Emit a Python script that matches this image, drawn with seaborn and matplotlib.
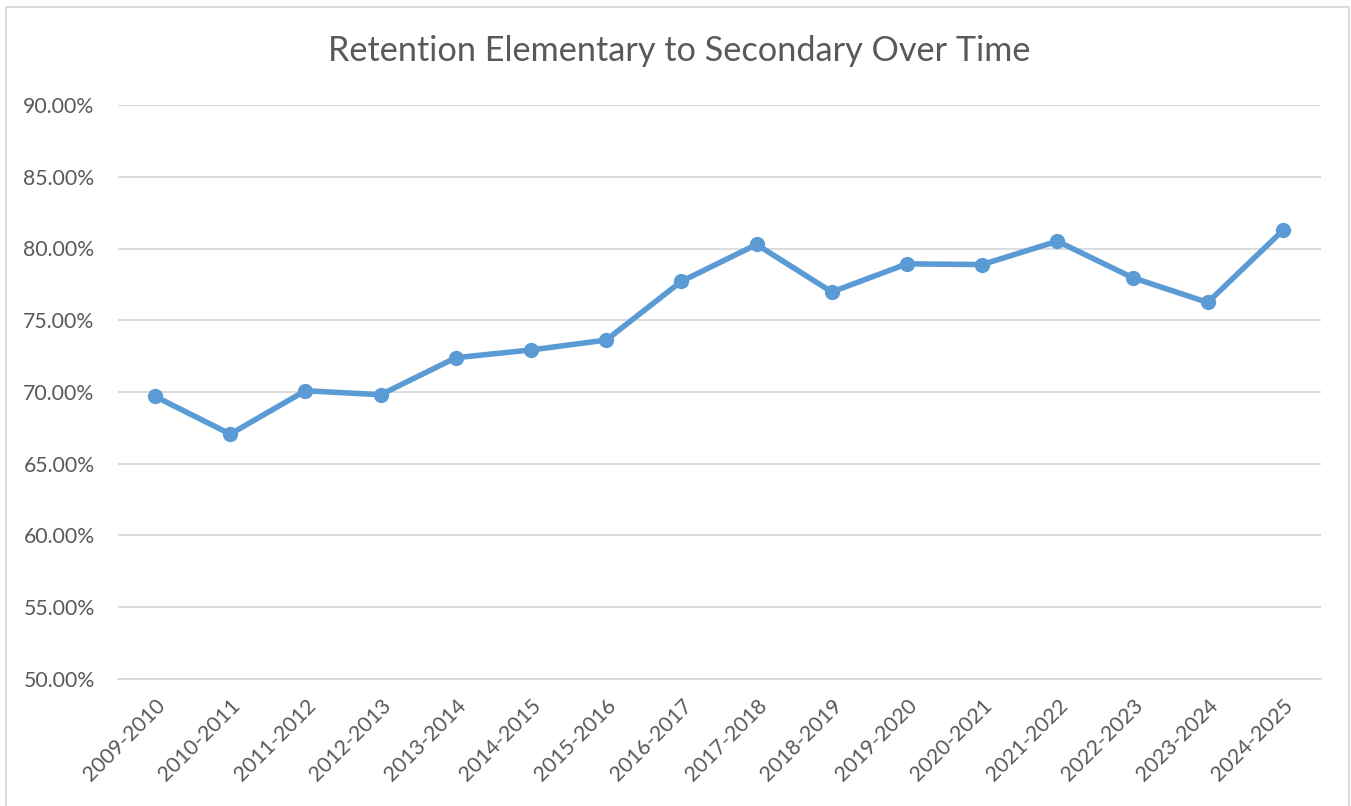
import pandas as pd
import matplotlib.pyplot as plt
import seaborn as sns
from matplotlib.patches import Rectangle
from matplotlib.ticker import FuncFormatter

# school years and retention rate (%)
years = ['2009-2010', '2010-2011', '2011-2012', '2012-2013', '2013-2014',
         '2014-2015', '2015-2016', '2016-2017', '2017-2018', '2018-2019',
         '2019-2020', '2020-2021', '2021-2022', '2022-2023', '2023-2024',
         '2024-2025']
retention = [69.69, 67.07, 70.09, 69.81, 72.39, 72.93, 73.62, 77.71, 80.28,
             76.97, 78.93, 78.88, 80.51, 77.97, 76.24, 81.26]

df = pd.DataFrame({'Year': years, 'Retention': retention})

sns.set_theme(style="white")
plt.rcParams['font.family'] = ['Lato', 'DejaVu Sans']

text_grey = '#595959'
blue = '#5B9BD5'

fig = plt.figure(figsize=(13.51, 8.06), dpi=100)
ax = fig.add_axes([117.5 / 1351, 1 - 679 / 806, (1320.5 - 117.5) / 1351, (679 - 105) / 806])

sns.lineplot(data=df, x='Year', y='Retention', ax=ax, color=blue, linewidth=4,
             marker='o', markersize=11, markeredgewidth=0, sort=False)

ax.set_xlim(-0.5, len(years) - 0.5)
ax.set_ylim(50, 90)
ax.set_yticks(range(50, 91, 5))
ax.yaxis.set_major_formatter(FuncFormatter(lambda v, p: f'{v:.2f}%'))
ax.grid(axis='y', color='#D9D9D9', linewidth=1.3)
ax.set_axisbelow(True)
for s in ax.spines.values():
    s.set_visible(False)
ax.spines['bottom'].set_visible(True)
ax.spines['bottom'].set_color('#D9D9D9')
ax.spines['bottom'].set_linewidth(1.3)

ax.tick_params(axis='y', colors=text_grey, labelsize=15.3, length=0, pad=16.5)
ax.tick_params(axis='x', colors=text_grey, labelsize=15.3, length=0, pad=12)
plt.setp(ax.get_xticklabels(), rotation=45, ha='right', rotation_mode='anchor')
ax.set_xlabel('')
ax.set_ylabel('')

fig.text(679 / 1351, 1 - 51 / 806, 'Retention Elementary to Secondary Over Time',
         ha='center', va='center', fontsize=24.7, color=text_grey)

# chart border like the Excel chart area
fig.patches.append(Rectangle((6 / 1351, -0.01), (1349 - 6) / 1351, 1 - 7 / 806 + 0.01,
                             transform=fig.transFigure, fill=False,
                             edgecolor='#D9D9D9', linewidth=1.3))

plt.savefig('out.png', dpi=100)
